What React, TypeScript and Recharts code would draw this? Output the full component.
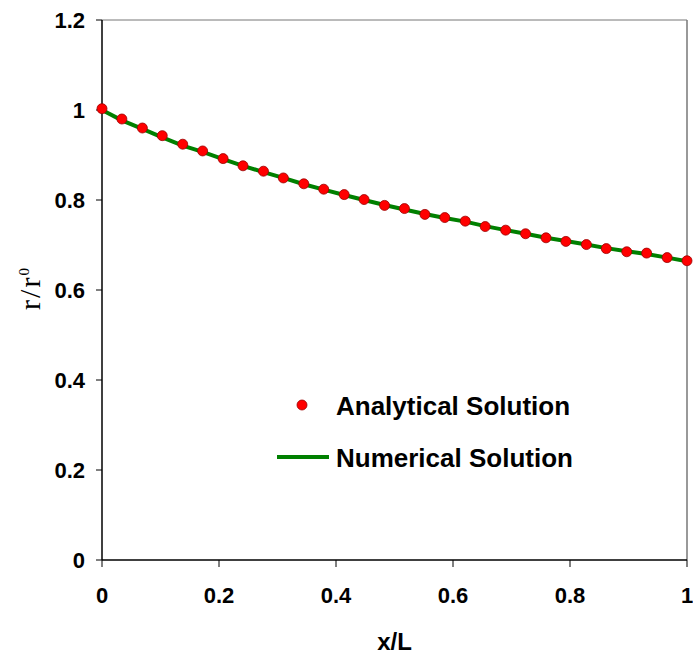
import { ComposedChart, Line, Scatter, XAxis, YAxis, ReferenceLine, Legend } from 'recharts'

// x/L positions of the sampled stations
const xPos = [
  0, 0.034, 0.069, 0.103, 0.138, 0.172, 0.207, 0.241, 0.276, 0.31, 0.345, 0.379, 0.414, 0.448, 0.483,
  0.517, 0.552, 0.586, 0.621, 0.655, 0.69, 0.724, 0.759, 0.793, 0.828, 0.862, 0.897, 0.931, 0.966, 1,
]

// r/r0 – analytical solution (red dots)
const analytical = [
  1.003, 0.98, 0.96, 0.943, 0.924, 0.909, 0.892, 0.876, 0.864, 0.849, 0.836, 0.824, 0.812, 0.801, 0.788,
  0.781, 0.768, 0.761, 0.753, 0.741, 0.733, 0.725, 0.716, 0.708, 0.701, 0.692, 0.685, 0.682, 0.672, 0.665,
]

// r/r0 – numerical solution (green line)
const numerical = [
  1.0, 0.977, 0.958, 0.939, 0.921, 0.907, 0.891, 0.876, 0.862, 0.849, 0.835, 0.823, 0.811, 0.8, 0.789,
  0.779, 0.769, 0.76, 0.752, 0.742, 0.733, 0.725, 0.716, 0.709, 0.701, 0.693, 0.686, 0.68, 0.672, 0.664,
]

const xTicks = [0, 0.2, 0.4, 0.6, 0.8, 1]
const yTicks = [0, 0.2, 0.4, 0.6, 0.8, 1, 1.2]
const seriesNames = ['Analytical Solution', 'Numerical Solution']

const analyticalData = xPos.map((x, i) => ({ x, r: analytical[i] }))
const numericalData = xPos.map((x, i) => ({ x, r: numerical[i] }))

const sans = '"Liberation Sans", Arial, sans-serif'
const serif = '"Liberation Serif", "Times New Roman", serif'
const tickStyle = { fill: '#000', fontSize: 22, fontWeight: 700, fontFamily: sans }

function YLabel(props: any) {
  const vb = props.viewBox || { y: 20, height: 540 }
  const cy = vb.y + vb.height / 2 - 2
  const cx = 40
  return (
    <text
      x={cx}
      y={cy}
      transform={`rotate(-90, ${cx}, ${cy})`}
      textAnchor="middle"
      fill="#000"
      fontFamily={serif}
      fontSize={30}
      letterSpacing={2}
    >
      r/r
      <tspan fontSize={15} dy={-11}>0</tspan>
    </text>
  )
}

function ChartLegend() {
  return (
    <svg width={340} height={90} style={{ overflow: 'visible' }}>
      <circle cx={32} cy={20} r={5} fill="#ff0000" stroke="#990000" strokeWidth={0.8} />
      <text x={66} y={21} dominantBaseline="central" fontFamily={sans} fontSize={26} fontWeight={700} fill="#000">
        {seriesNames[0]}
      </text>
      <line x1={7} x2={59} y1={72} y2={72} stroke="#008000" strokeWidth={4} />
      <text x={66} y={73} dominantBaseline="central" fontFamily={sans} fontSize={26} fontWeight={700} fill="#000">
        {seriesNames[1]}
      </text>
    </svg>
  )
}

export default function App() {
  return (
    <div style={{ position: 'absolute', left: 0, top: 0, width: 693, height: 655, background: '#fff' }}>
      <ComposedChart width={693} height={655} margin={{ top: 20, right: 6, bottom: 0, left: 0 }}>
        <XAxis
          type="number"
          dataKey="x"
          domain={[0, 1]}
          ticks={xTicks}
          tickFormatter={(v) => String(v)}
          axisLine={{ stroke: '#000', strokeWidth: 1.5 }}
          tickLine={{ stroke: '#000', strokeWidth: 1 }}
          tickSize={7}
          tickMargin={20}
          tick={tickStyle}
          height={95}
          label={{ value: 'x/L', position: 'insideBottom', offset: 5, fill: '#000', fontSize: 24, fontWeight: 700, fontFamily: sans }}
        />
        <YAxis
          type="number"
          dataKey="r"
          domain={[0, 1.2]}
          ticks={yTicks}
          tickFormatter={(v) => String(v)}
          axisLine={{ stroke: '#000', strokeWidth: 1.5 }}
          tickLine={{ stroke: '#000', strokeWidth: 1 }}
          tickSize={6}
          tickMargin={11}
          tick={tickStyle}
          width={102}
          label={<YLabel />}
        />
        <ReferenceLine y={1.2} stroke="#777" strokeWidth={1} />
        <ReferenceLine x={1} stroke="#777" strokeWidth={1.5} />
        <Line
          data={numericalData}
          dataKey="r"
          name={seriesNames[1]}
          type="linear"
          stroke="#008000"
          strokeWidth={4}
          dot={false}
          isAnimationActive={false}
        />
        <Scatter
          data={analyticalData}
          dataKey="r"
          name={seriesNames[0]}
          fill="#ff0000"
          isAnimationActive={false}
          shape={(p: any) => <circle cx={p.cx} cy={p.cy} r={5} fill="#ff0000" stroke="#990000" strokeWidth={0.8} />}
        />
        <Legend
          layout="horizontal"
          align="center"
          verticalAlign="middle"
          wrapperStyle={{ left: 270, top: 385, width: 340, height: 90 }}
          content={() => <ChartLegend />}
        />
      </ComposedChart>
    </div>
  )
}
